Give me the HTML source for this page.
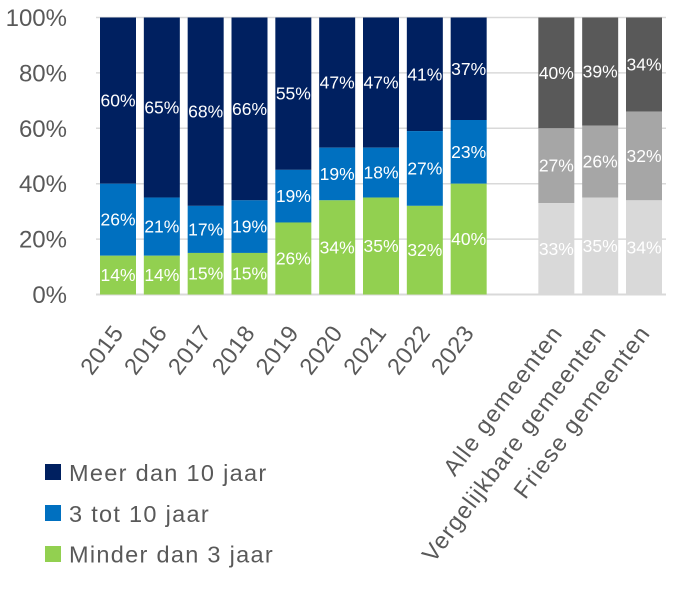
<!DOCTYPE html>
<html><head><meta charset="utf-8"><style>
html,body{margin:0;padding:0;background:#fff;}
svg{display:block;}
text{font-family:"Liberation Sans",Arial,sans-serif;}
.ax{fill:#595959;font-size:24px;}
.xl{fill:#595959;font-size:23.5px;letter-spacing:0.5px;}
.xl2{fill:#595959;font-size:23.5px;letter-spacing:1.25px;}
.dl{fill:#fff;font-size:17.5px;text-anchor:middle;}
.lg{fill:#595959;font-size:23.5px;letter-spacing:1.3px;}
</style></head><body>
<svg width="674" height="589" viewBox="0 0 674 589" xmlns="http://www.w3.org/2000/svg">
<rect width="674" height="589" fill="#fff"/>
<g stroke="#D9D9D9" stroke-width="1.5">
<line x1="96" y1="17.5" x2="666" y2="17.5"/>
<line x1="96" y1="72.9" x2="666" y2="72.9"/>
<line x1="96" y1="128.3" x2="666" y2="128.3"/>
<line x1="96" y1="183.7" x2="666" y2="183.7"/>
<line x1="96" y1="239.1" x2="666" y2="239.1"/>
<line x1="96" y1="294.5" x2="666" y2="294.5" stroke-width="2"/>
</g>
<g class="ax" text-anchor="end">
<text x="67" y="26">100%</text>
<text x="67" y="81.4">80%</text>
<text x="67" y="136.8">60%</text>
<text x="67" y="192.2">40%</text>
<text x="67" y="247.6">20%</text>
<text x="67" y="303">0%</text>
</g>
<!-- bars -->
<g>
<rect x="100" y="17.5" width="36" height="166.2" fill="#002060"/>
<rect x="100" y="183.7" width="36" height="72.02" fill="#0070C0"/>
<rect x="100" y="255.72" width="36" height="38.78" fill="#92D050"/>
<rect x="143.83" y="17.5" width="36" height="180.05" fill="#002060"/>
<rect x="143.83" y="197.55" width="36" height="58.17" fill="#0070C0"/>
<rect x="143.83" y="255.72" width="36" height="38.78" fill="#92D050"/>
<rect x="187.67" y="17.5" width="36" height="188.36" fill="#002060"/>
<rect x="187.67" y="205.86" width="36" height="47.09" fill="#0070C0"/>
<rect x="187.67" y="252.95" width="36" height="41.55" fill="#92D050"/>
<rect x="231.5" y="17.5" width="36" height="182.82" fill="#002060"/>
<rect x="231.5" y="200.32" width="36" height="52.63" fill="#0070C0"/>
<rect x="231.5" y="252.95" width="36" height="41.55" fill="#92D050"/>
<rect x="275.33" y="17.5" width="36" height="152.35" fill="#002060"/>
<rect x="275.33" y="169.85" width="36" height="52.63" fill="#0070C0"/>
<rect x="275.33" y="222.48" width="36" height="72.02" fill="#92D050"/>
<rect x="319.17" y="17.5" width="36" height="130.19" fill="#002060"/>
<rect x="319.17" y="147.69" width="36" height="52.63" fill="#0070C0"/>
<rect x="319.17" y="200.32" width="36" height="94.18" fill="#92D050"/>
<rect x="363" y="17.5" width="36" height="130.19" fill="#002060"/>
<rect x="363" y="147.69" width="36" height="49.86" fill="#0070C0"/>
<rect x="363" y="197.55" width="36" height="96.95" fill="#92D050"/>
<rect x="406.83" y="17.5" width="36" height="113.57" fill="#002060"/>
<rect x="406.83" y="131.07" width="36" height="74.79" fill="#0070C0"/>
<rect x="406.83" y="205.86" width="36" height="88.64" fill="#92D050"/>
<rect x="450.67" y="17.5" width="36" height="102.5" fill="#002060"/>
<rect x="450.67" y="120" width="36" height="63.7" fill="#0070C0"/>
<rect x="450.67" y="183.7" width="36" height="110.8" fill="#92D050"/>
<rect x="538.33" y="17.5" width="36" height="110.8" fill="#595959"/>
<rect x="538.33" y="128.3" width="36" height="74.79" fill="#A6A6A6"/>
<rect x="538.33" y="203.09" width="36" height="91.41" fill="#D9D9D9"/>
<rect x="582.17" y="17.5" width="36" height="108.03" fill="#595959"/>
<rect x="582.17" y="125.53" width="36" height="72.02" fill="#A6A6A6"/>
<rect x="582.17" y="197.55" width="36" height="96.95" fill="#D9D9D9"/>
<rect x="626" y="17.5" width="36" height="94.18" fill="#595959"/>
<rect x="626" y="111.68" width="36" height="88.64" fill="#A6A6A6"/>
<rect x="626" y="200.32" width="36" height="94.18" fill="#D9D9D9"/>
</g>
<!-- data labels -->
<g class="dl">
<text x="118" y="106.6">60%</text><text x="118" y="225.7">26%</text><text x="118" y="281.1">14%</text>
<text x="161.83" y="113.5">65%</text><text x="161.83" y="232.6">21%</text><text x="161.83" y="281.1">14%</text>
<text x="205.67" y="117.7">68%</text><text x="205.67" y="235.4">17%</text><text x="205.67" y="279.7">15%</text>
<text x="249.5" y="114.9">66%</text><text x="249.5" y="232.6">19%</text><text x="249.5" y="279.7">15%</text>
<text x="293.33" y="99.7">55%</text><text x="293.33" y="202.2">19%</text><text x="293.33" y="264.5">26%</text>
<text x="337.17" y="88.6">47%</text><text x="337.17" y="180">19%</text><text x="337.17" y="253.4">34%</text>
<text x="381" y="88.6">47%</text><text x="381" y="178.6">18%</text><text x="381" y="252">35%</text>
<text x="424.83" y="80.3">41%</text><text x="424.83" y="174.5">27%</text><text x="424.83" y="256.2">32%</text>
<text x="468.67" y="74.8">37%</text><text x="468.67" y="157.9">23%</text><text x="468.67" y="245.1">40%</text>
<text x="556.33" y="78.9">40%</text><text x="556.33" y="171.7">27%</text><text x="556.33" y="254.8">33%</text>
<text x="600.17" y="77.5">39%</text><text x="600.17" y="167.5">26%</text><text x="600.17" y="252">35%</text>
<text x="644" y="70.6">34%</text><text x="644" y="162">32%</text><text x="644" y="253.4">34%</text>
</g>
<!-- x labels -->
<g class="xl" text-anchor="end">
<text transform="translate(124.5,333) rotate(-53)">2015</text>
<text transform="translate(168.3,333) rotate(-53)">2016</text>
<text transform="translate(212.2,333) rotate(-53)">2017</text>
<text transform="translate(256,333) rotate(-53)">2018</text>
<text transform="translate(299.8,333) rotate(-53)">2019</text>
<text transform="translate(343.7,333) rotate(-53)">2020</text>
<text transform="translate(387.5,333) rotate(-53)">2021</text>
<text transform="translate(431.3,333) rotate(-53)">2022</text>
<text transform="translate(475.2,333) rotate(-53)">2023</text>
</g>
<g class="xl2" text-anchor="end">
<text transform="translate(563.6,333) rotate(-53)">Alle gemeenten</text>
<text transform="translate(607.4,333) rotate(-53)">Vergelijkbare gemeenten</text>
<text transform="translate(651.3,333) rotate(-53)">Friese gemeenten</text>
</g>
<!-- legend -->
<rect x="45" y="464" width="16" height="16" fill="#002060"/>
<text class="lg" x="69" y="481">Meer dan 10 jaar</text>
<rect x="45" y="505" width="16" height="16" fill="#0070C0"/>
<text class="lg" x="69" y="522">3 tot 10 jaar</text>
<rect x="45" y="546" width="16" height="16" fill="#92D050"/>
<text class="lg" x="69" y="562.5">Minder dan 3 jaar</text>
</svg>
</body></html>
